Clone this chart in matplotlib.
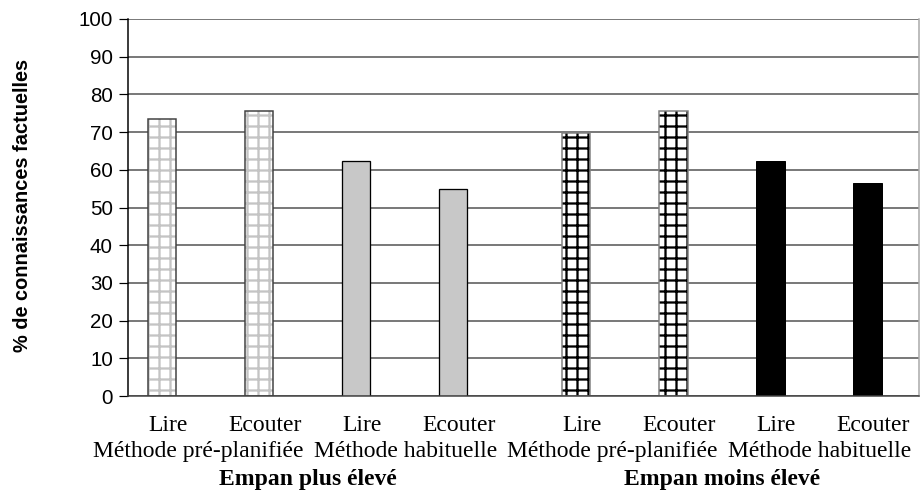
import matplotlib
matplotlib.use("Agg")
import matplotlib.pyplot as plt
import numpy as np

# values (% de connaissances factuelles)
conditions = ["Lire", "Ecouter", "Lire", "Ecouter", "Lire", "Ecouter", "Lire", "Ecouter"]
methods = ["Méthode pré-planifiée", "Méthode habituelle",
           "Méthode pré-planifiée", "Méthode habituelle"]
groups = ["Empan plus élevé", "Empan moins élevé"]
values = [73.5, 75.5, 62.4, 55.0, 69.8, 75.5, 62.4, 56.5]

DPI = 132
def px(v):  # pixels -> points
    return v * 72.0 / DPI

plt.rcParams["hatch.linewidth"] = px(2.3)

fig = plt.figure(figsize=(924 / DPI, 490 / DPI), dpi=DPI)
ax = fig.add_axes([128 / 924, 1 - 396 / 490, 791 / 924, 377 / 490])

# bar positions: 4 bars per group, larger gap between the two groups
x = np.array([0, 1, 2, 3, 4.27, 5.27, 6.27, 7.27])
w = 0.29

ax.set_axisbelow(True)
ax.yaxis.grid(True, color="#505050", lw=px(1.5))

# pre-planned, higher span: white with light grey grid
ax.bar(x[0:2], values[0:2], w, color="white", edgecolor="#c4c4c4", hatch="++", lw=0)
ax.bar(x[0:2], values[0:2], w, fill=False, edgecolor="#404040", lw=px(1.5))
# usual, higher span: light grey
ax.bar(x[2:4], values[2:4], w, color="#c8c8c8", edgecolor="black", lw=px(1.3))
# pre-planned, lower span: white with black grid
ax.bar(x[4:6], values[4:6], w, color="white", edgecolor="black", hatch="++", lw=0)
ax.bar(x[4:6], values[4:6], w, fill=False, edgecolor="#808080", lw=px(1.5))
# usual, lower span: black
ax.bar(x[6:8], values[6:8], w, color="black", edgecolor="black", lw=px(1.0))

ax.set_xlim(-0.35, 7.8)
ax.set_ylim(0, 100)
ax.set_yticks(np.arange(0, 101, 10))
ax.set_xticks([])
ax.tick_params(axis="y", direction="out", length=px(9), width=px(1.2),
               pad=px(6), labelsize=px(20.5))
for lab in ax.get_yticklabels():
    lab.set_fontfamily("Liberation Sans")

ax.spines["left"].set_color("black")
ax.spines["left"].set_linewidth(px(1.5))
ax.spines["bottom"].set_color("#404040")
ax.spines["bottom"].set_linewidth(px(1.5))
ax.spines["right"].set_color("#a8a8a8")
ax.spines["right"].set_linewidth(px(1.5))
ax.spines["top"].set_visible(False)

serif = "Liberation Serif"
fs = px(23.6)
trans = ax.get_xaxis_transform()
for xi, lab in zip(x, conditions):
    ax.annotate(lab, (xi + 0.06, 0), xycoords=trans, xytext=(0, -px(34.7)),
                textcoords="offset points", ha="center", va="baseline",
                fontsize=fs, family=serif)
# method labels meet between the 2nd and 3rd bar of each group
for g in range(2):
    xm = (x[4 * g + 1] + x[4 * g + 2]) / 2
    ax.annotate(methods[2 * g], (xm, 0), xycoords=trans, xytext=(-px(4), -px(60.7)),
                textcoords="offset points", ha="right", va="baseline",
                fontsize=fs, family=serif)
    ax.annotate(methods[2 * g + 1], (xm, 0), xycoords=trans, xytext=(px(6), -px(60.7)),
                textcoords="offset points", ha="left", va="baseline",
                fontsize=fs, family=serif)
for i, lab in enumerate(groups):
    xc = (x[4 * i] + x[4 * i + 3]) / 2
    ax.annotate(lab, (xc, 0), xycoords=trans, xytext=(0, -px(88.5)),
                textcoords="offset points", ha="center", va="baseline",
                fontsize=fs, family=serif, fontweight="bold")

fig.text(23 / 924, 1 - 205 / 490, "% de connaissances factuelles", rotation=90,
         ha="center", va="center", fontsize=px(20), fontweight="bold",
         family="Liberation Sans")

fig.savefig("out.png", dpi=DPI)
